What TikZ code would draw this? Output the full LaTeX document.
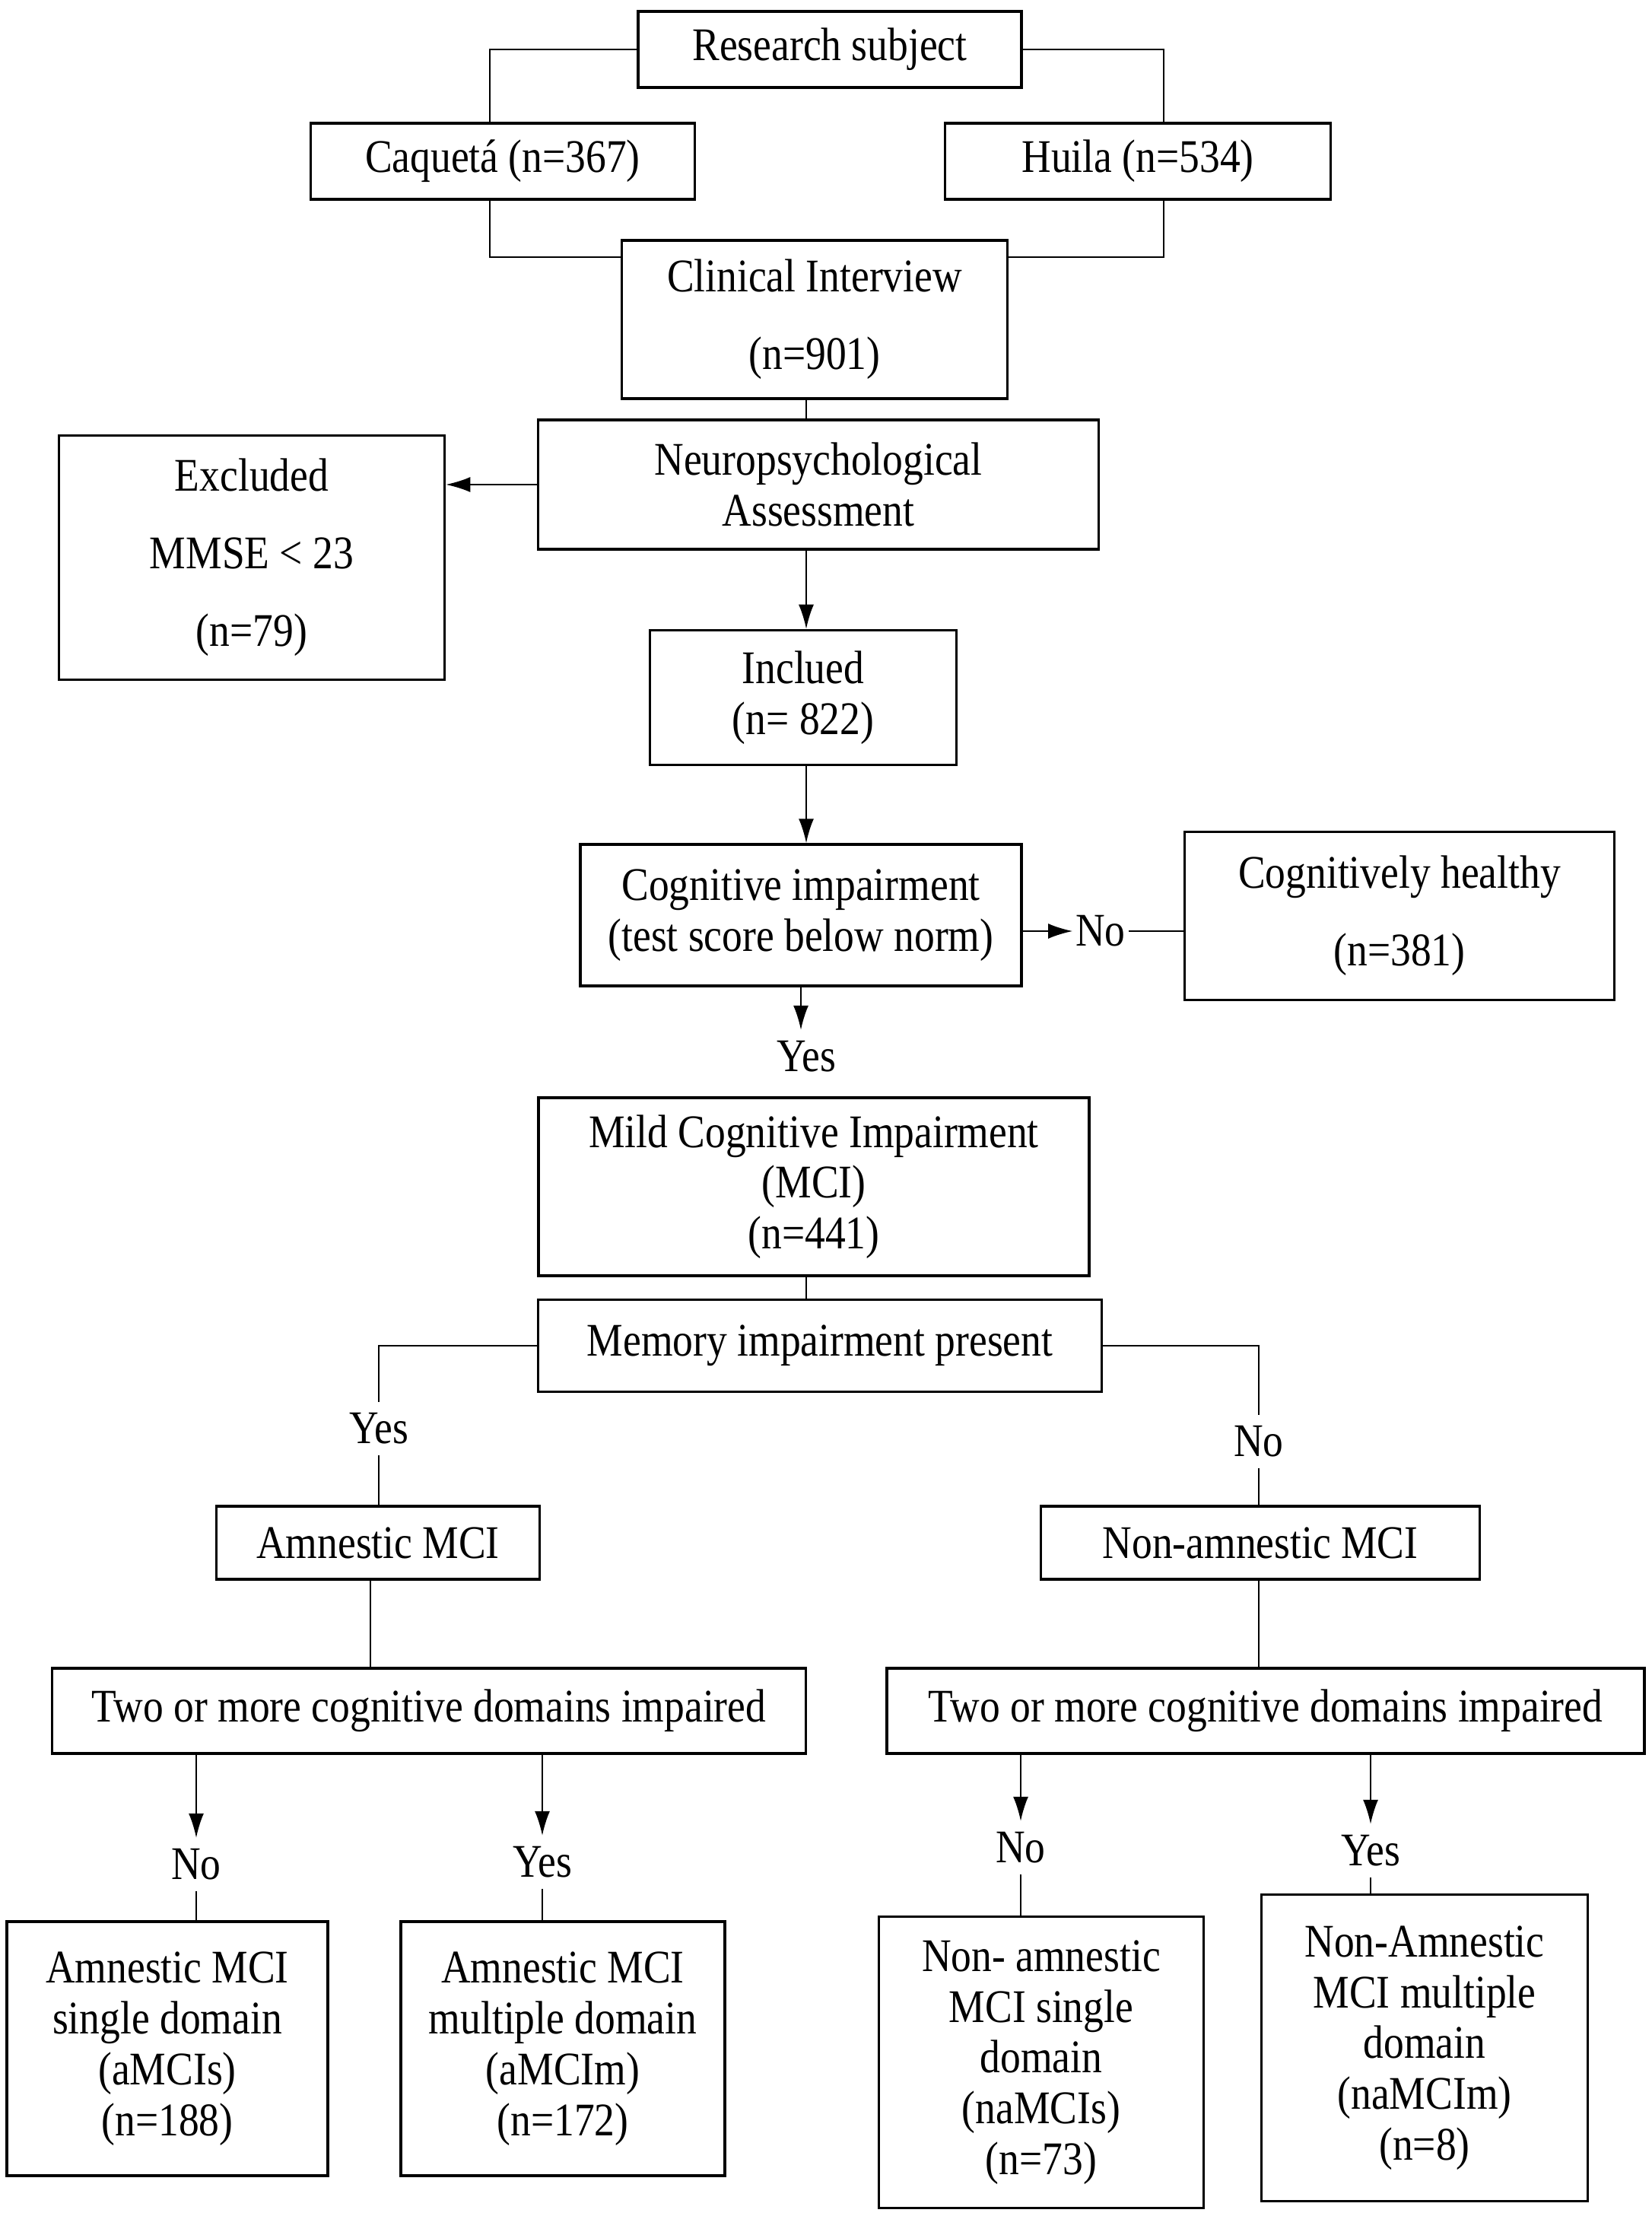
\documentclass[tikz,border=0pt]{standalone}
\usepackage{fontspec}
\setmainfont[FakeStretch=0.87]{Liberation Serif}
\usetikzlibrary{arrows.meta}

\begin{document}
\begin{tikzpicture}
          \tikzstyle{every node}=[align=center, font=\fontsize{17.5pt}{19pt}\selectfont];
          \tikzstyle{box}=[draw, line width=1pt, rectangle, inner sep=0pt];
          \tikzstyle{lab}=[inner sep=4pt];
          \tikzstyle{line}=[line width=0.6pt];
          \tikzstyle{arr}=[line width=0.6pt, -{Latex[length=0.32cm,width=0.2cm]}];
          \useasboundingbox (0,0) rectangle (21.71,-29.13);
          %top part
          \node[box, minimum width=5.04cm, minimum height=1.00cm] (rs) at (10.91,-0.65) {Research subject};
          \node[box, minimum width=5.05cm, minimum height=1.00cm] (caq) at (6.61,-2.12) {Caquetá (n=367)};
          \node[box, minimum width=5.07cm, minimum height=1.00cm] (hui) at (14.96,-2.12) {Huila (n=534)};
          \node[box, minimum width=5.07cm, minimum height=2.08cm] (clin) at (10.71,-4.20) {Clinical Interview\\[10pt](n=901)};
          \node[box, minimum width=7.37cm, minimum height=1.70cm] (neuro) at (10.76,-6.37) {Neuropsychological\\Assessment};
          \node[box, minimum width=5.07cm, minimum height=3.21cm] (excl) at (3.31,-7.33) {Excluded\\[10pt]MMSE < 23\\[10pt](n=79)};
          \node[box, minimum width=4.03cm, minimum height=1.77cm] (incl) at (10.56,-9.17) {Inclued\\(n= 822)};
          \node[box, minimum width=5.80cm, minimum height=1.86cm] (cog) at (10.53,-12.03) {Cognitive impairment\\(test score below norm)};
          \node[box, minimum width=5.65cm, minimum height=2.21cm] (healthy) at (18.40,-12.04) {Cognitively healthy\\[10pt](n=381)};
          \node[lab, inner sep=1pt] (no1) at (14.47,-12.24) {No};
          \node[lab] (yes1) at (10.60,-13.89) {Yes};
          \node[box, minimum width=7.24cm, minimum height=2.34cm] (mci) at (10.70,-15.60) {Mild Cognitive Impairment\\(MCI)\\(n=441)};
          \node[box, minimum width=7.41cm, minimum height=1.21cm] (mem) at (10.78,-17.69) {Memory impairment present};
          %MCI subtypes
          \node[lab] (yes2) at (4.98,-18.78) {Yes};
          \node[lab] (no2) at (16.55,-18.95) {No};
          \node[box, minimum width=4.25cm, minimum height=0.96cm] (amn) at (4.97,-20.28) {Amnestic MCI};
          \node[box, minimum width=5.77cm, minimum height=0.96cm] (namn) at (16.57,-20.28) {Non-amnestic MCI};
          \node[box, minimum width=9.91cm, minimum height=1.12cm] (twol) at (5.64,-22.49) {Two or more cognitive domains impaired};
          \node[box, minimum width=9.96cm, minimum height=1.12cm] (twor) at (16.64,-22.49) {Two or more cognitive domains impaired};
          \node[lab] (nol) at (2.58,-24.51) {No};
          \node[lab] (yesl) at (7.13,-24.48) {Yes};
          \node[lab] (nor) at (13.42,-24.29) {No};
          \node[lab] (yesr) at (18.02,-24.33) {Yes};
          \node[box, minimum width=4.22cm, minimum height=3.34cm] (amcis) at (2.20,-26.93) {Amnestic MCI\\single domain\\(aMCIs)\\(n=188)};
          \node[box, minimum width=4.26cm, minimum height=3.34cm] (amcim) at (7.40,-26.93) {Amnestic MCI\\multiple domain\\(aMCIm)\\(n=172)};
          \node[box, minimum width=4.27cm, minimum height=3.83cm] (namcis) at (13.69,-27.11) {Non- amnestic\\MCI single\\domain\\(naMCIs)\\(n=73)};
          \node[box, minimum width=4.29cm, minimum height=4.03cm] (namcim) at (18.73,-26.92) {Non-Amnestic\\MCI multiple\\domain\\(naMCIm)\\(n=8)};
          %connectors
          \coordinate (jl) at (6.44,-3.38);
          \coordinate (jr) at (15.30,-3.38);
          \coordinate (spine) at (10.60,0);
          \draw[line] (rs.west) -| (caq.north -| jl);
          \draw[line] (rs.east) -| (hui.north -| jr);
          \draw[line] (caq.south -| jl) |- (clin.west |- jl);
          \draw[line] (hui.south -| jr) |- (clin.east |- jr);
          \draw[line] (clin.south -| spine) -- (neuro.north -| spine);
          \draw[arr] (neuro.west) -- (excl.east |- neuro.west);
          \draw[arr] (neuro.south -| spine) -- (incl.north -| spine);
          \draw[arr] (incl.south -| spine) -- (cog.north -| spine);
          \draw[arr] (cog.east |- no1.west) -- (no1.west);
          \draw[line] (no1.east) -- (healthy.west |- no1.east);
          \draw[arr] (cog.south) -- (cog.south |- yes1.north);
          \draw[line] (mci.south -| spine) -- (mem.north -| spine);
          \draw[line] (mem.west) -| (yes2.north);
          \draw[line] (yes2.south) -- (yes2.south |- amn.north);
          \draw[line] (mem.east) -| (no2.north);
          \draw[line] (no2.south) -- (no2.south |- namn.north);
          \draw[line] ([xshift=-0.1cm]amn.south) -- ([xshift=-0.1cm]amn.south |- twol.north);
          \draw[line] (namn.south -| no2) -- (twor.north -| no2);
          \draw[arr] (twol.south -| nol) -- (nol.north);
          \draw[arr] (twol.south -| yesl) -- (yesl.north);
          \draw[arr] (twor.south -| nor) -- (nor.north);
          \draw[arr] (twor.south -| yesr) -- (yesr.north);
          \draw[line] (nol.south) -- (nol.south |- amcis.north);
          \draw[line] (yesl.south) -- (yesl.south |- amcim.north);
          \draw[line] (nor.south) -- (nor.south |- namcis.north);
          \draw[line] (yesr.south) -- (yesr.south |- namcim.north);
      \end{tikzpicture}
\end{document}
